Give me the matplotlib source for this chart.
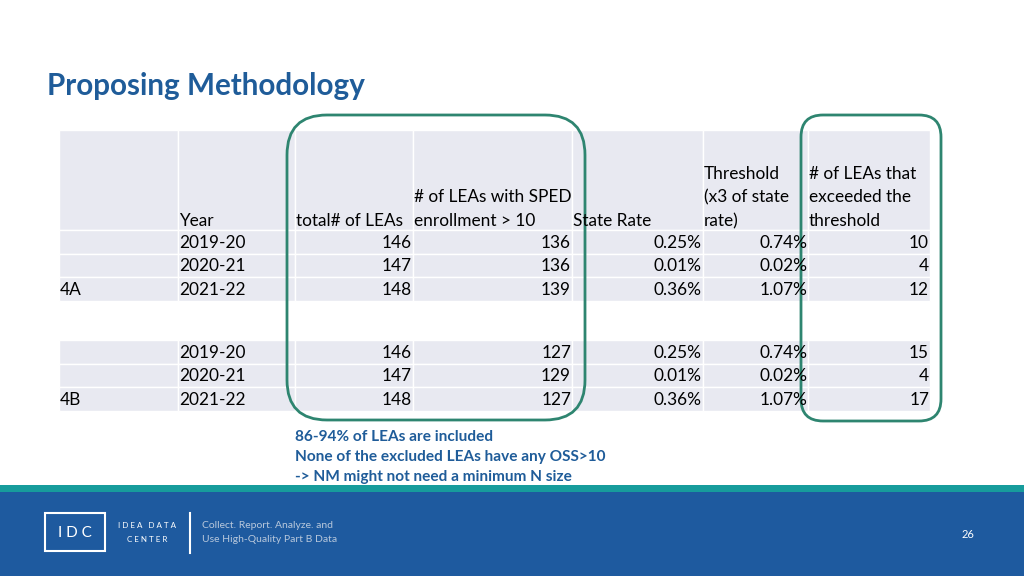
import matplotlib.pyplot as plt
from matplotlib.patches import Rectangle, FancyBboxPatch

# table content
headers = ["", "Year", "total# of LEAs", "# of LEAs with SPED\nenrollment > 10",
           "State Rate", "Threshold\n(x3 of state\nrate)", "# of LEAs that\nexceeded the\nthreshold"]
years = ["2019-20", "2020-21", "2021-22"]
groups = ["4A", "4B"]
total_leas = {"4A": [146, 147, 148], "4B": [146, 147, 148]}
sped_leas = {"4A": [136, 136, 139], "4B": [127, 129, 127]}
state_rate = {"4A": ["0.25%", "0.01%", "0.36%"], "4B": ["0.25%", "0.01%", "0.36%"]}
threshold = {"4A": ["0.74%", "0.02%", "1.07%"], "4B": ["0.74%", "0.02%", "1.07%"]}
exceeded = {"4A": [10, 4, 12], "4B": [15, 4, 17]}
notes = ["86-94% of LEAs are included",
         "None of the excluded LEAs have any OSS>10",
         "-> NM might not need a minimum N size"]

col_edges = [59, 178, 295, 413, 572, 703, 808, 930]
fill = "#E8E9F1"
blue = "#1F5C99"
green = "#2E8570"
font = "Lato"

fig = plt.figure(figsize=(10.24, 5.76), dpi=100)
ax = fig.add_axes([0, 0, 1, 1])
ax.set_xlim(0, 1024)
ax.set_ylim(576, 0)
ax.axis("off")

ax.text(47, 86, "Proposing Methodology", fontsize=21.3, fontweight="bold",
        color=blue, va="center", ha="left", family=font)

def cell(x0, x1, y0, y1):
    ax.add_patch(Rectangle((x0, y0), x1 - x0, y1 - y0, facecolor=fill,
                           edgecolor="white", linewidth=1))

# header block
for i in range(7):
    cell(col_edges[i], col_edges[i + 1], 130, 230)
    lines = headers[i].split("\n")
    for k, ln in enumerate(reversed(lines)):
        ax.text(col_edges[i] + 1, 221 - 23.5 * k, ln, fontsize=12.4, va="center",
                ha="left", color="black", family=font)

block_tops = {"4A": 230, "4B": 340}
row_h = 23.5
for g in groups:
    top = block_tops[g]
    cols = [None, years, total_leas[g], sped_leas[g], state_rate[g], threshold[g], exceeded[g]]
    for r in range(3):
        y0 = top + r * row_h
        yc = y0 + row_h / 2 + 1
        for i in range(7):
            cell(col_edges[i], col_edges[i + 1], y0, y0 + row_h)
        if r == 2:
            ax.text(col_edges[0] + 1, yc, g, fontsize=12.4, va="center", ha="left", family=font)
        ax.text(col_edges[1] + 1, yc, years[r], fontsize=12.4, va="center", ha="left", family=font)
        for i in range(2, 7):
            ax.text(col_edges[i + 1] - 1, yc, str(cols[i][r]), fontsize=12.4,
                    va="center", ha="right", family=font)

# highlight boxes
ax.add_patch(FancyBboxPatch((287, 115), 298, 305, boxstyle="round,pad=0,rounding_size=40",
                            facecolor="none", edgecolor=green, linewidth=2))
ax.add_patch(FancyBboxPatch((801, 115), 140, 306, boxstyle="round,pad=0,rounding_size=22",
                            facecolor="none", edgecolor=green, linewidth=2))

for k, t in enumerate(notes):
    ax.text(295, 437 + 20 * k, t, fontsize=11.1, fontweight="bold", color=blue,
            va="center", ha="left", family=font)

# footer
ax.add_patch(Rectangle((0, 485), 1024, 8, facecolor="#179C9C", edgecolor="none"))
ax.add_patch(Rectangle((0, 492), 1024, 84, facecolor="#1E5A9F", edgecolor="none"))
ax.add_patch(Rectangle((45, 513), 60, 38, facecolor="none", edgecolor="white", linewidth=1.5))
ax.text(75, 533, "I D C", fontsize=11, color="white", ha="center", va="center", family=font)
ax.text(147, 526, "I D E A   D A T A", fontsize=5.8, color="white", ha="center", va="center", family=font)
ax.text(147, 540, "C E N T E R", fontsize=5.8, color="white", ha="center", va="center", family=font)
ax.plot([190, 190], [513, 553], color="white", linewidth=1.5)
ax.text(202, 526, "Collect. Report. Analyze. and", fontsize=7.5, color="#B8C8DC",
        ha="left", va="center", family=font)
ax.text(202, 539, "Use High-Quality Part B Data", fontsize=7.5, color="#B8C8DC",
        ha="left", va="center", family=font)
ax.text(968, 534, "26", fontsize=8, color="white", ha="center", va="center", family=font)

fig.savefig("out.png", dpi=100)
